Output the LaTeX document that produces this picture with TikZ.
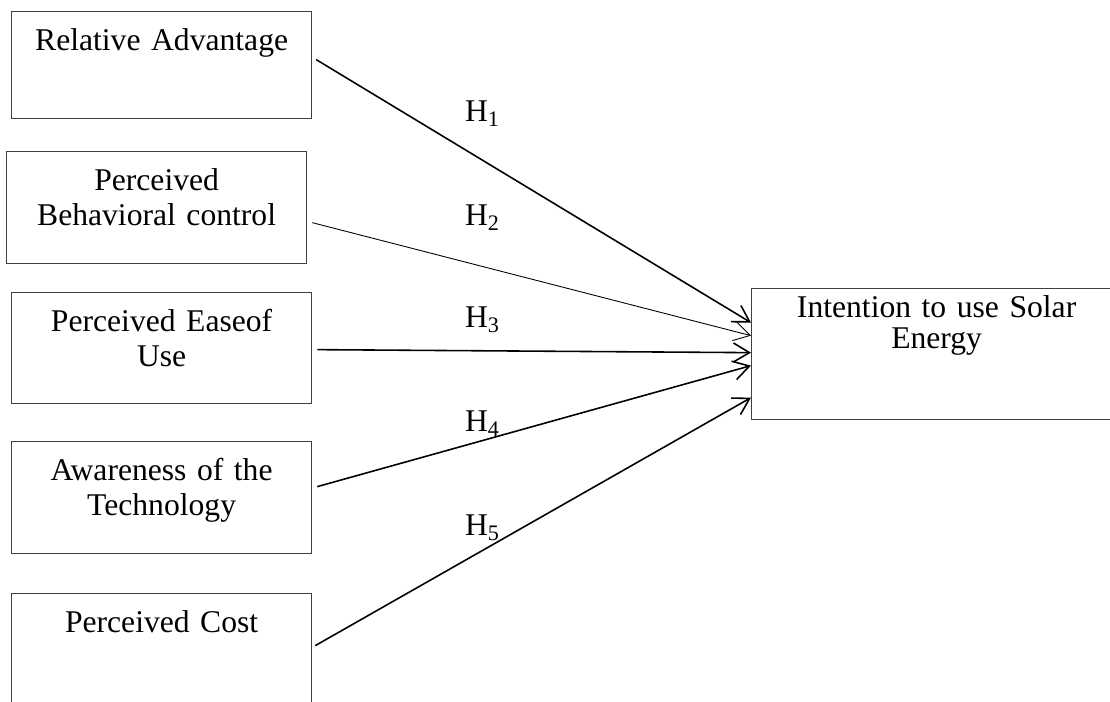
\documentclass[tikz,border=0pt]{standalone}
\usepackage{fontspec}
\setmainfont{Liberation Serif}
\usepackage{tikz}
\usetikzlibrary{arrows.meta,calc}

\begin{document}
\begin{tikzpicture}[
  x=0.02cm, y=-0.02cm,
  factor/.style={draw=black!75, line width=0.75pt, text width=6cm, align=center, inner sep=0pt,
    text height=0.78cm, text depth=1.46cm, font=\fontsize{18}{20}\selectfont},
  outcome/.style={factor, text width=7.4cm, text height=0.58cm, text depth=2.04cm,
    font=\fontsize{18}{17.6}\selectfont},
  hypo/.style={font=\fontsize{18}{20}\selectfont, inner sep=0pt, anchor=base},
  link/.style={-{Straight Barb[length=3.2mm,width=3.8mm]}, line width=0.9pt}
]
\clip (0,0) rectangle (1110,702);
\node[factor, anchor=north west, text depth=1.36cm] (ra) at (11,11) {Relative Advantage};
\node[factor, anchor=north west] (pbc) at (6,151) {Perceived\\Behavioral control};
\node[factor, anchor=north west, text depth=1.44cm] (peou) at (11,292) {Perceived Easeof\\Use};
\node[factor, anchor=north west] (aware) at (11,441) {Awareness of the\\Technology};
\node[factor, anchor=north west] (cost) at (11,593) {Perceived Cost};
\node[outcome, anchor=north west] (intent) at (751,288) {Intention to use Solar\\Energy};

\node[hypo] (h1) at (482.5,122) {H\textsubscript{1}};
\node[hypo] (h2) at (482.5,226) {H\textsubscript{2}};
\node[hypo] (h3) at (482.5,328) {H\textsubscript{3}};
\node[hypo] (h4) at (482.5,432) {H\textsubscript{4}};
\node[hypo] (h5) at (482.5,536) {H\textsubscript{5}};

% hypothesised paths
\draw[link] ($(ra.east)+(4,-5.5)$) -- ($(intent.west)+(0,-31.5)$);
\draw[link, line width=0.5pt] ($(pbc.east)+(5,15)$) -- ($(intent.west)+(0,-18.5)$);
\draw[link] ($(peou.east)+(5,1.5)$) -- ($(intent.west)+(0,-1.5)$);
\draw[link] ($(aware.east)+(5,-11)$) -- ($(intent.west)+(0,11.5)$);
\draw[link] ($(cost.east)+(3,-4)$) -- ($(intent.west)+(0,43.5)$);
\end{tikzpicture}
\end{document}
